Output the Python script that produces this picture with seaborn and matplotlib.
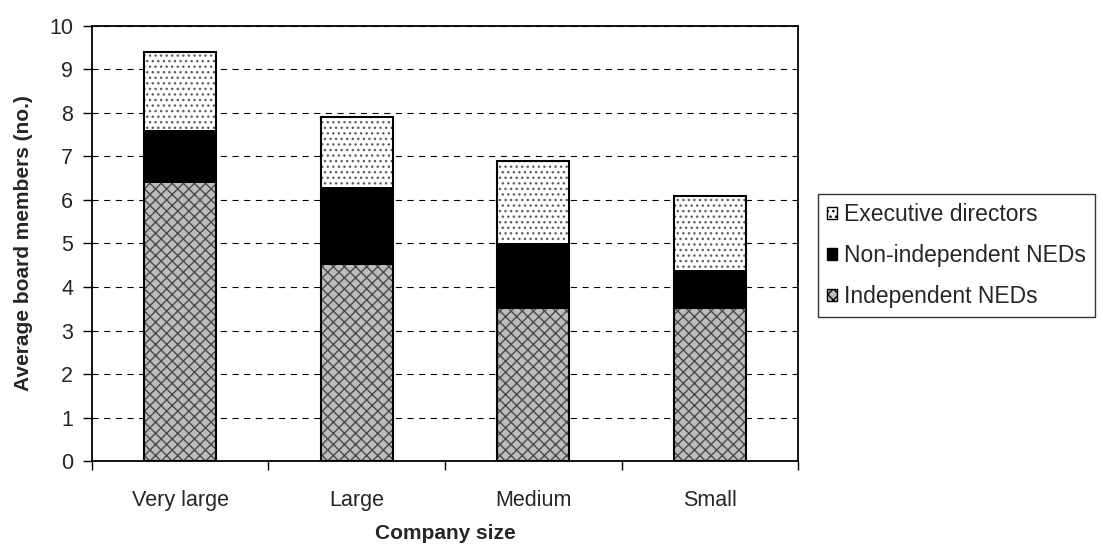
import numpy as np
import seaborn as sns
import matplotlib.pyplot as plt
from matplotlib.patches import Patch

# Values
sizes = ["Very large", "Large", "Medium", "Small"]
independent_neds = [6.4, 4.5, 3.5, 3.5]
non_independent_neds = [1.2, 1.8, 1.5, 0.9]
executive_directors = [1.8, 1.6, 1.9, 1.7]

sns.set_style("white")
plt.rcParams['font.family'] = ['Liberation Sans', 'DejaVu Sans']
plt.rcParams['hatch.linewidth'] = 1.0

lower = np.array(independent_neds)
middle = lower + np.array(non_independent_neds)
total = middle + np.array(executive_directors)

fig = plt.figure(figsize=(11.03, 5.47), dpi=100)
ax = fig.add_axes([0.0834, 0.1572, 0.6401, 0.7953])

bar_w = 0.41
ind_face = "#bcbcbc"
ind_hatch = "#4a4a4a"
# stacked by overdrawing cumulative totals
sns.barplot(x=sizes, y=total, color="white", saturation=1, width=bar_w,
            hatch="...", edgecolor="#606060", linewidth=0, ax=ax)
sns.barplot(x=sizes, y=middle, color="black", saturation=1, width=bar_w,
            linewidth=0, ax=ax)
sns.barplot(x=sizes, y=lower, color=ind_face, saturation=1, width=bar_w,
            hatch="xxx", edgecolor=ind_hatch, linewidth=0, ax=ax)
# outline of the whole bar
sns.barplot(x=sizes, y=total, fill=False, width=bar_w, saturation=1,
            edgecolor="black", linewidth=1.5, ax=ax)

ax.set_ylim(0, 10)
ax.set_xlim(-0.5, 3.5)
ax.set_yticks(range(0, 11))
ax.yaxis.grid(True, color="black", linestyle=(0, (5.5, 5)), linewidth=0.8)
ax.set_axisbelow(True)

# ticks at category boundaries, labels centred between them
ax.set_xticks(np.arange(-0.5, 4, 1))
ax.set_xticklabels([])
ax.set_xticks(range(len(sizes)), minor=True)
ax.set_xticklabels(sizes, minor=True, fontsize=15.5)
ax.tick_params(axis="x", which="major", bottom=True, direction="out",
               length=6.5, width=1, color="black")
ax.tick_params(axis="x", which="minor", bottom=True, length=0, pad=21)
ax.tick_params(axis="y", left=True, direction="out", length=6.5, width=1,
               color="black", labelsize=15.5, pad=7)

for side in ["left", "right", "top", "bottom"]:
    ax.spines[side].set_visible(True)
    ax.spines[side].set_color("black")
    ax.spines[side].set_linewidth(1.3)

ax.set_xlabel("Company size", fontsize=15, fontweight="bold", labelpad=9)
ax.set_ylabel("Average board members (no.)", fontsize=15, fontweight="bold",
              labelpad=12)

handles = [
    Patch(facecolor="white", edgecolor="black", hatch="...",
          label="Executive directors"),
    Patch(facecolor="black", edgecolor="black",
          label="Non-independent NEDs"),
    Patch(facecolor=ind_face, edgecolor="black", hatch="xxx",
          label="Independent NEDs"),
]
leg = fig.legend(handles=handles, loc="upper left",
                 bbox_to_anchor=(0.7416, 0.6453), bbox_transform=fig.transFigure,
                 fontsize=16.5, frameon=True, fancybox=False, shadow=False,
                 handlelength=0.45, handleheight=0.45, handletextpad=0.27,
                 labelspacing=0.78, borderpad=0.4, borderaxespad=0)
leg.get_frame().set_edgecolor("black")
leg.get_frame().set_linewidth(1.0)

fig.savefig("out.png", dpi=100)
